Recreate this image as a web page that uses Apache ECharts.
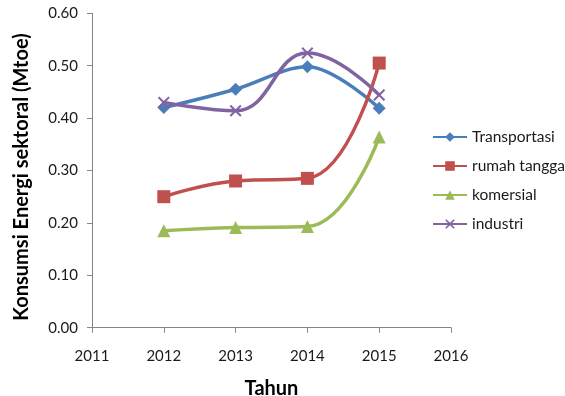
<!DOCTYPE html>
<html>
<head>
<meta charset="utf-8">
<script src="https://cdn.jsdelivr.net/npm/echarts@6/dist/echarts.min.js"></script>
<style>
  html, body { margin: 0; padding: 0; background: #fff; }
  #chart { width: 565px; height: 396px; }
</style>
</head>
<body>
<div id="chart"></div>
<script>
// Sectoral energy consumption (Mtoe), 2012-2015
const years = [2012, 2013, 2014, 2015];
const transportasi = [0.42, 0.455, 0.498, 0.419];
const rumahTangga = [0.25, 0.28, 0.285, 0.505];
const komersial = [0.185, 0.191, 0.193, 0.364];
const industri = [0.43, 0.414, 0.524, 0.444];

const xTicks = [2011, 2012, 2013, 2014, 2015, 2016];
const yTicks = [0, 0.1, 0.2, 0.3, 0.4, 0.5, 0.6];

const FONT = 'Lato, "Open Sans", sans-serif';
const AXIS_GREY = '#868686';

// thin filled "x" cross used for the industri series
const crossPath = 'path://M0,1.2 L1.2,0 L5,3.8 L8.8,0 L10,1.2 L6.2,5 L10,8.8 L8.8,10 L5,6.2 L1.2,10 L0,8.8 L3.8,5 Z';

function pairs(ys) {
  return years.map((y, i) => [y, ys[i]]);
}

function makeSeries(name, values, color, symbol, size, smooth) {
  return {
    name: name,
    type: 'line',
    data: pairs(values),
    smooth: smooth,
    symbol: symbol,
    symbolSize: size,
    showAllSymbol: true,
    lineStyle: { color: color, width: 3.5 },
    itemStyle: { color: color },
    emphasis: { disabled: true }
  };
}

const chart = echarts.init(document.getElementById('chart'), null, { renderer: 'canvas' });

chart.setOption({
  animation: false,
  backgroundColor: '#ffffff',
  textStyle: { fontFamily: FONT },
  grid: {
    left: 92, right: 114, top: 13.3, bottom: 68.3,
    containLabel: false,
    outerBoundsMode: 'none'
  },
  legend: {
    orient: 'vertical',
    left: 427,
    top: 124,
    itemWidth: 34,
    itemHeight: 12,
    itemGap: 13,
    textStyle: { fontFamily: FONT, fontSize: 15.5, color: '#1a1a1a' },
    data: ['Transportasi', 'rumah tangga', 'komersial', 'industri']
  },
  xAxis: {
    type: 'value',
    min: xTicks[0],
    max: xTicks[xTicks.length - 1],
    interval: 1,
    name: 'Tahun',
    nameLocation: 'middle',
    nameGap: 51,
    nameTextStyle: { fontFamily: FONT, fontSize: 20, fontWeight: 'bold', color: '#000' },
    axisLine: { show: true, onZero: false, lineStyle: { color: AXIS_GREY, width: 1 } },
    axisTick: { show: true, inside: false, length: 5, lineStyle: { color: AXIS_GREY } },
    splitLine: { show: false },
    axisLabel: {
      margin: 21,
      fontFamily: FONT,
      fontSize: 15,
      color: '#1a1a1a',
      formatter: v => String(v)
    }
  },
  yAxis: {
    type: 'value',
    min: yTicks[0],
    max: yTicks[yTicks.length - 1],
    interval: 0.1,
    name: 'Konsumsi Energi sektoral (Mtoe)',
    nameLocation: 'middle',
    nameGap: 60,
    nameRotate: 90,
    nameTextStyle: {
      fontFamily: FONT, fontSize: 20, fontWeight: 'bold', color: '#000',
      padding: [0, 13, 0, 0]
    },
    axisLine: { show: true, lineStyle: { color: AXIS_GREY, width: 1 } },
    axisTick: { show: true, inside: false, length: 5, lineStyle: { color: AXIS_GREY } },
    splitLine: { show: false },
    axisLabel: {
      margin: 14,
      fontFamily: FONT,
      fontSize: 15,
      color: '#1a1a1a',
      formatter: v => v.toFixed(2)
    }
  },
  series: [
    makeSeries('Transportasi', transportasi, '#4a7ebb', 'diamond', 13, 0.35),
    makeSeries('rumah tangga', rumahTangga, '#c0504d', 'rect', 13, 0.45),
    makeSeries('komersial', komersial, '#9bbb59', 'triangle', 13, 0.45),
    makeSeries('industri', industri, '#8064a2', crossPath, 12, 0.45)
  ]
});
</script>
</body>
</html>
